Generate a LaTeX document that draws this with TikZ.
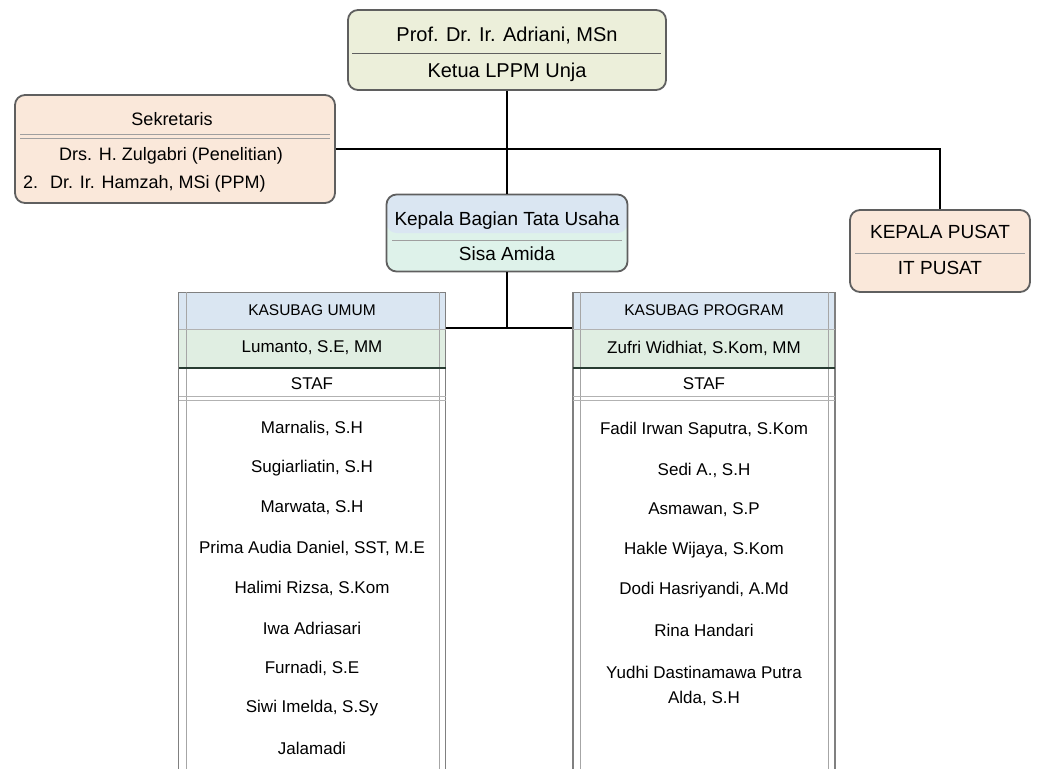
\documentclass[tikz,border=0pt]{standalone}
\usepackage{fontspec}
\setmainfont{Liberation Sans}
\usetikzlibrary{positioning}
\definecolor{lin}{RGB}{95,95,95}
\definecolor{ylw}{RGB}{236,239,218}
\definecolor{pch}{RGB}{250,232,218}
\definecolor{blu}{RGB}{218,230,242}
\definecolor{mnt}{RGB}{222,242,234}
\definecolor{grn}{RGB}{224,238,226}
\definecolor{thk}{RGB}{40,60,50}
\tikzset{
  unit/.style={draw=lin, line width=1.8pt, rounded corners=10pt, inner sep=0pt},
  col/.style={draw=gray, line width=1.3pt, inner sep=0pt},
  txt/.style={font=\fontsize{17}{19}\selectfont, inner sep=1pt},
  big/.style={font=\fontsize{19}{21}\selectfont, inner sep=1pt},
  link/.style={draw=black, line width=1.2pt},
}

\begin{document}
\begin{tikzpicture}[x=1pt,y=-1pt]
\useasboundingbox (0,0) rectangle (1046,768);
\clip (0,0) rectangle (1046,768);

% ketua
\node[unit, fill=ylw, minimum width=318pt, minimum height=80pt] (ketua) at (507,50) {};
\draw[lin] (352,53) -- (661,53);
\node[big, font=\fontsize{20}{22}\selectfont] (ketuaA) at (507,36) {Prof. Dr. Ir. Adriani, MSn};
\node[big, font=\fontsize{20}{22}\selectfont] (ketuaB) at (507,72) {Ketua LPPM Unja};

% sekretaris
\node[unit, fill=pch, minimum width=320pt, minimum height=108pt] (sekre) at (175,149) {};
\draw[lin!60] (20,134) -- (330,134); \draw[lin!60] (20,138) -- (330,138);
\node[big, font=\fontsize{18}{20}\selectfont] (sekreA) at (172,119) {Sekretaris};
\node[big, font=\fontsize{18}{20}\selectfont, anchor=west] (sekreB) at (58,156) {Drs. H. Zulgabri (Penelitian)};
\node[big, font=\fontsize{18}{20}\selectfont, anchor=west] (sekreC) at (22,184) {2.\hspace{12pt}Dr. Ir. Hamzah, MSi (PPM)};

% kabag tu
\node[unit, fill=mnt, minimum width=241pt, minimum height=77pt,
  path picture={\fill[blu] (path picture bounding box.north west) rectangle (path picture bounding box.east);}] (kabag) at (507,233) {};
\draw[lin!60] (392,240) -- (622,240);
\node[big] (kabagA) at (507,221) {Kepala Bagian Tata Usaha};
\node[big] (kabagB) at (507,254) {Sisa Amida};

% kepala pusat
\node[unit, fill=pch, minimum width=180pt, minimum height=82pt] (pusat) at (940,251) {};
\draw[lin!60] (855,253) -- (1025,253);
\node[big] (pusatA) at (940,232) {KEPALA PUSAT};
\node[big] (pusatB) at (940,268) {IT PUSAT};

% connectors
\draw[link] (sekre.east) -| (pusat.north);
\draw[link] (ketua.south) -- (kabag.north);
\coordinate (jn) at (507,328);

% kolom umum
\fill[blu] (179,292) rectangle (446,329);
\fill[grn] (179,329) rectangle (446,368);
\node[col, anchor=north, minimum width=267pt, minimum height=490pt] (umum) at (312,292) {};
\draw[gray!70] (186,292) -- (186,780); \draw[gray!70] (439,292) -- (439,780);
\draw[gray!60] (179,329) -- (446,329);
\draw[thk, line width=2.4pt] (179,368) -- (446,368);
\draw[gray!60] (179,396) -- (446,396); \draw[gray!60] (179,400) -- (446,400);
\node[txt, font=\fontsize{15.5}{18}\selectfont] (umumA) at (312,310) {KASUBAG UMUM};
\node[txt] (umumB) at (312,348) {Lumanto, S.E, MM};
\node[txt] (umumS) at (312,384) {STAF};
\foreach \n [count=\i from 0] in {{Marnalis, S.H},{Sugiarliatin, S.H},{Marwata, S.H},
  {Prima Audia Daniel, SST, M.E},{Halimi Rizsa, S.Kom},{Iwa Adriasari},{Furnadi, S.E},
  {Siwi Imelda, S.Sy},{Jalamadi}}
  \node[txt] (umum-\i) at (312,{428+40*\i}) {\n};

% kolom program
\fill[blu] (573,292) rectangle (835,329);
\fill[grn] (573,329) rectangle (835,368);
\node[col, anchor=north, minimum width=262pt, minimum height=490pt] (prog) at (704,292) {};
\draw[gray!70] (580,292) -- (580,780); \draw[gray!70] (828,292) -- (828,780);
\draw[gray!60] (573,329) -- (835,329);
\draw[thk, line width=2.4pt] (573,368) -- (835,368);
\draw[gray!60] (573,396) -- (835,396); \draw[gray!60] (573,400) -- (835,400);
\node[txt, font=\fontsize{15.5}{18}\selectfont] (progA) at (704,310) {KASUBAG PROGRAM};
\node[txt] (progB) at (704,348) {Zufri Widhiat, S.Kom, MM};
\node[txt] (progS) at (704,384) {STAF};
\foreach \n [count=\i from 0] in {{Fadil Irwan Saputra, S.Kom},{Sedi A., S.H},{Asmawan, S.P},
  {Hakle Wijaya, S.Kom},{Dodi Hasriyandi, A.Md},{Rina Handari}}
  \node[txt] (prog-\i) at (704,{430+40*\i}) {\n};
\node[txt, align=center] (prog-6) at (704,686) {Yudhi Dastinamawa Putra\\[6pt]Alda, S.H};

\draw[link] (kabag.south) -- (jn);
\draw[link] (umum.east |- jn) -- (prog.west |- jn);
\end{tikzpicture}
\end{document}
